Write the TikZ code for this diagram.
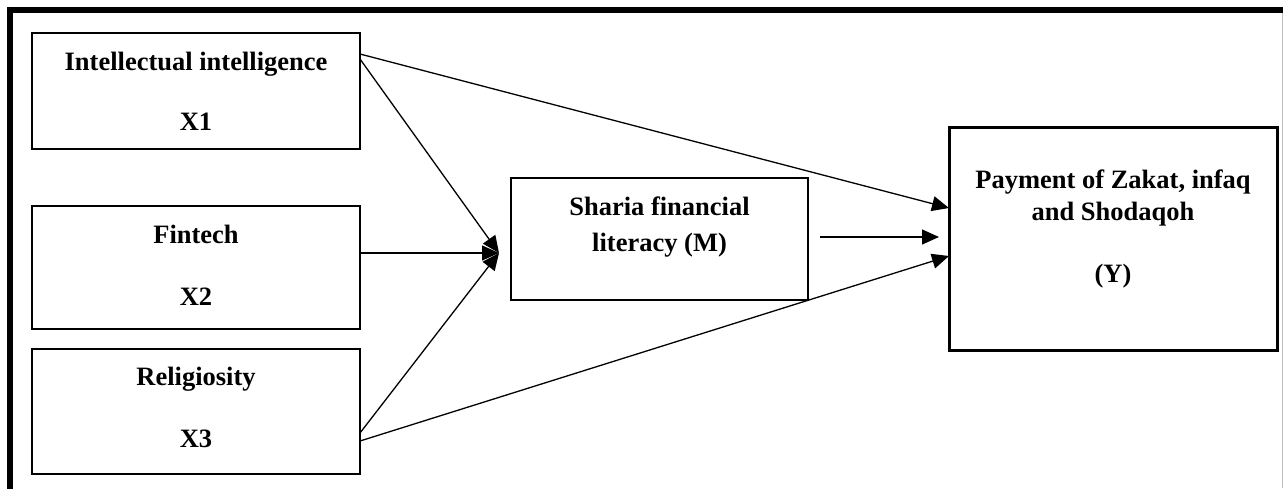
\documentclass[tikz,border=0pt]{standalone}
\usepackage{fontspec}
\setmainfont{Liberation Serif}
\usetikzlibrary{arrows.meta,calc}
\begin{document}
\begin{tikzpicture}[x=1pt,y=-1pt,
  box/.style={draw=black, line width=2.2pt, inner sep=0pt, outer sep=0pt, fill=white},
  lbl/.style={font=\fontsize{26.5}{30}\selectfont\bfseries, inner sep=0pt, anchor=base},
  conn/.style={line width=1.3pt, -{Triangle[length=17pt,width=15pt]}}]
\useasboundingbox (0,0) rectangle (1283,488);
% outer frame
\draw[line width=6pt] (10,491) -- (10,10) -- (1286,10);
\draw[gray!50, line width=1pt] (1282,13) -- (1282,488);
% boxes
\node[box, minimum width=328pt, minimum height=116pt] (x1) at (196,91) {};
\node[box, minimum width=328pt, minimum height=123pt] (x2) at (196,267.5) {};
\node[box, minimum width=328pt, minimum height=125pt] (x3) at (196,411.5) {};
\node[box, line width=2.5pt, minimum width=297pt, minimum height=122pt] (m) at (659.5,239) {};
\node[box, line width=3pt, minimum width=328pt, minimum height=223pt] (y) at (1113,238.5) {};
% labels
\node[lbl] (t1a) at (196,70) {Intellectual intelligence};
\node[lbl] (t1b) at (196,130) {X1};
\node[lbl] (t2a) at (196,243) {Fintech};
\node[lbl] (t2b) at (196,305) {X2};
\node[lbl] (t3a) at (196,385) {Religiosity};
\node[lbl] (t3b) at (196,447) {X3};
\node[lbl] (tma) at (659.5,215) {Sharia financial};
\node[lbl] (tmb) at (659.5,251) {literacy (M)};
\node[lbl] (tya) at (1113,188) {Payment of Zakat, infaq};
\node[lbl] (tyb) at (1113,220) {and Shodaqoh};
\node[lbl] (tyc) at (1113,282) {(Y)};
% convergence point before M
\coordinate (cm) at ([xshift=-12pt,yshift=-14pt]m.west);
% connectors
\draw[conn] ([yshift=32pt]x1.east) -- (cm);
\draw[conn] ([yshift=14.5pt]x2.east) -- (cm);
\draw[conn] ([yshift=-21.5pt]x3.east) -- (cm);
\draw[conn] ([yshift=37pt]x1.east) -- ([yshift=30.5pt]y.west);
\draw[conn] ([yshift=-29.5pt]x3.east) -- ([yshift=-17.5pt]y.west);
\draw[conn] ([xshift=12pt,yshift=2pt]m.east) -- ([xshift=-10pt,yshift=1.5pt]y.west);
\end{tikzpicture}
\end{document}
